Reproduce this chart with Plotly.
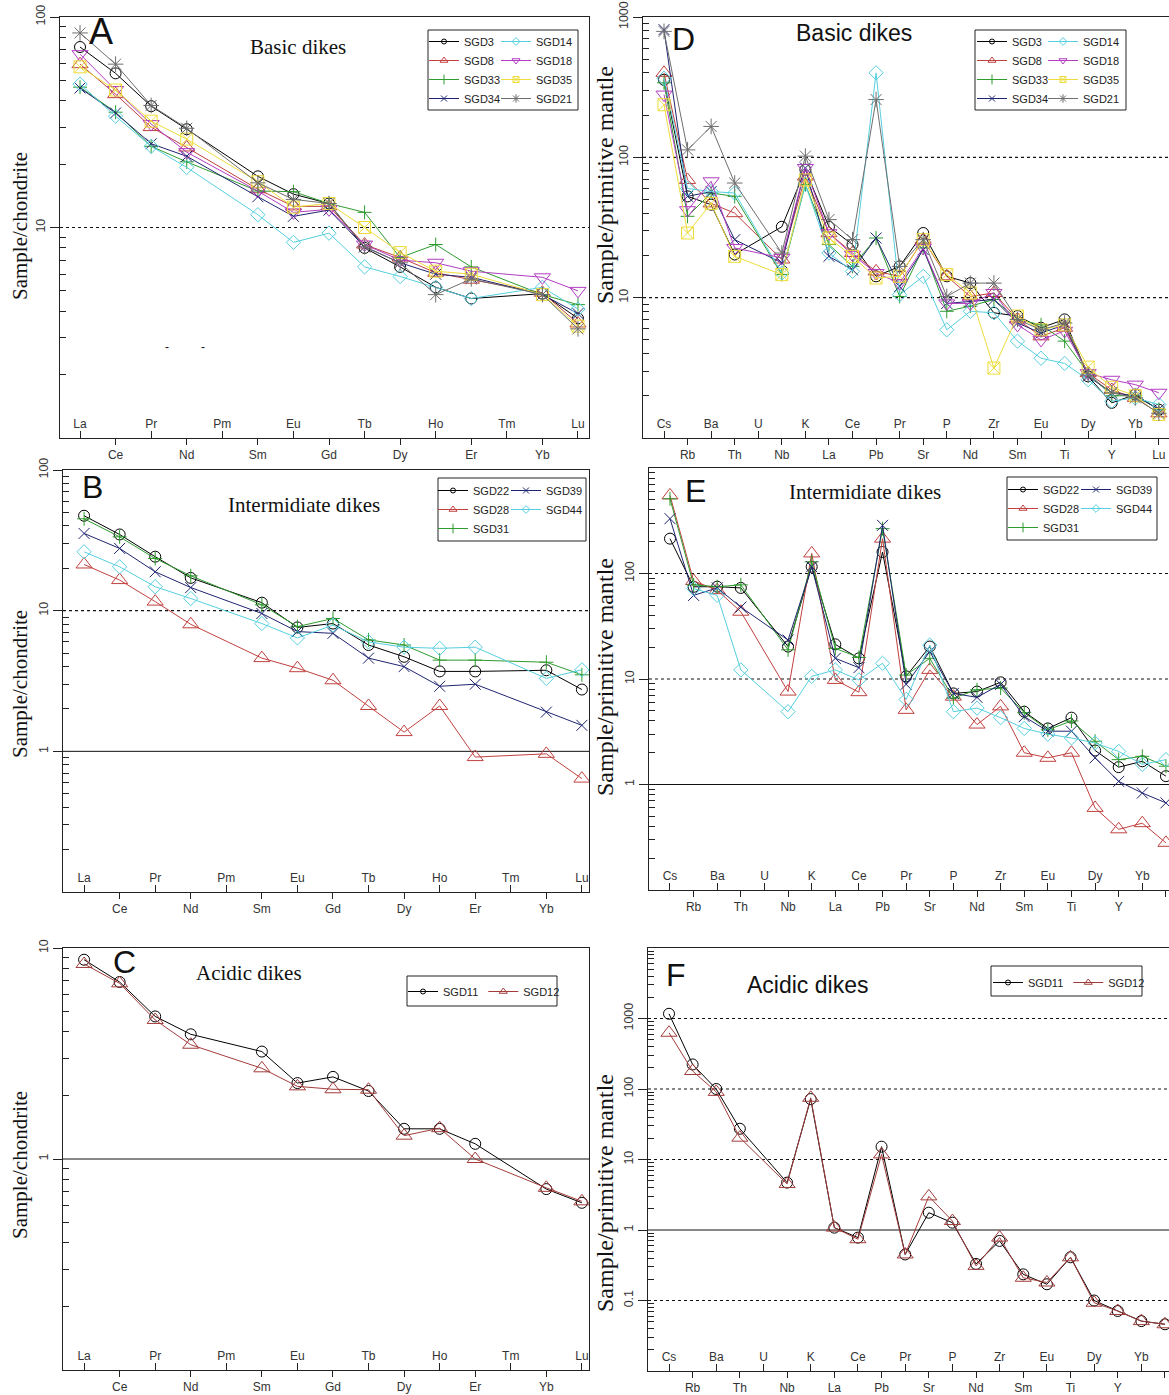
import plotly.graph_objects as go

W, H = 1169, 1395

REE = ["La", "Ce", "Pr", "Nd", "Pm", "Sm", "Eu", "Gd", "Tb", "Dy", "Ho", "Er", "Tm", "Yb", "Lu"]
SPIDER = ["Cs", "Rb", "Ba", "Th", "U", "Nb", "K", "La", "Ce", "Pb", "Pr", "Sr", "P",
          "Nd", "Zr", "Sm", "Eu", "Ti", "Dy", "Y", "Yb", "Lu"]

# ---- Panel A: basic dikes, chondrite-normalised REE (Pm, Tm not analysed) ----
A_SGD3 = [72, 54, 37.7, 29.3, None, 17.5, 14.4, 13.0, 8.0, 6.5, 5.2, 4.6, None, 4.85, 3.7]
A_SGD8 = [59.7, 43, 30, 24, None, 15.2, 12.6, 12.6, 8.3, 7.2, 6.1, 5.65, None, 4.9, 3.5]
A_SGD33 = [46.4, 35.3, 24.3, 20.5, None, 14.9, 14.8, 13.0, 11.8, 7.2, 8.3, 6.5, None, 4.8, 4.3]
A_SGD34 = [46, 35, 25, 21.8, None, 14.0, 11.3, 12.1, 8.1, 6.8, 6.0, 5.8, None, 4.8, 3.9]
A_SGD14 = [48, 33.8, 24.3, 19.3, None, 11.5, 8.5, 9.4, 6.5, 5.85, 5.2, 4.6, None, 5.2, 4.1]
A_SGD18 = [66.6, 45, 31, 22.8, None, 14.9, 11.8, 12.2, 8.3, 7.0, 6.8, 6.2, None, 5.8, 5.0]
A_SGD35 = [58, 45, 32, 26.3, None, 16.5, 12.5, 13.0, 10.0, 7.6, 6.2, 6.0, None, 4.8, 3.4]
A_SGD21 = [84, 59.7, 38, 29.6, None, 16.3, 13.6, 13.0, 8.1, 6.8, 4.8, 5.7, None, 4.8, 3.3]

# ---- Panel D: basic dikes, primitive-mantle-normalised spider (U not analysed) ----
D_SGD3 = [357, 52.7, 46, 20.3, None, 32, 81.7, 32, 23.9, 14.2, 16.7, 28.9, 14.2, 12.7, 7.8, 7.4, 6.1, 7.0, 2.75, 1.78, 2.04, 1.59]
D_SGD8 = [400, 69, 47, 40, None, 18.7, 73, 28.8, 20.8, 15.4, 14.2, 25.9, 14.2, 10.2, 10.8, 7.0, 5.3, 6.1, 2.9, 2.2, 1.93, 1.5]
D_SGD33 = [340, 38, 55.7, 52.7, None, 14.6, 64, 23.9, 16.7, 26.6, 10.2, 22.6, 8.0, 8.7, 9.7, 7.0, 6.4, 4.9, 2.9, 2.0, 2.0, 1.6]
D_SGD34 = [813, 52.7, 57, 25.9, None, 17.7, 84, 19.7, 15.8, 26.6, 12, 22, 9.1, 9.4, 9.7, 6.6, 5.6, 6.4, 2.75, 2.1, 2.0, 1.6]
D_SGD14 = [366, 60, 57, 55.7, None, 15, 64, 20.8, 15.4, 400, 10.5, 14.2, 5.9, 8.0, 7.8, 4.9, 3.7, 3.4, 2.6, 1.83, 1.93, 1.73]
D_SGD18 = [280, 42, 67.5, 22.6, None, 19.2, 84, 28.8, 20.2, 15, 12.7, 22.6, 9.1, 9.1, 10.8, 6.4, 5.0, 5.8, 2.9, 2.6, 2.4, 2.1]
D_SGD35 = [237, 28.9, 47, 19.7, None, 14.6, 69, 26.6, 19.7, 13.8, 14.2, 25.9, 14.6, 10.8, 3.15, 7.4, 5.9, 6.4, 3.2, 2.3, 2.0, 1.47]
D_SGD21 = [790, 113, 166, 65.6, None, 20.8, 102, 36, 25.9, 258, 16.7, 25.9, 10.2, 12.7, 12.7, 7.0, 5.9, 6.6, 2.8, 2.1, 1.93, 1.5]

# ---- Panel B: intermediate dikes, REE ----
B_SGD22 = [47.3, 34.8, 24.2, 17.1, None, 11.4, 7.6, 8.1, 5.7, 4.7, 3.7, 3.7, None, 3.77, 2.75]
B_SGD28 = [21.3, 16.5, 11.6, 8.0, None, 4.6, 3.9, 3.2, 2.1, 1.37, 2.1, 0.91, None, 0.96, 0.64]
B_SGD31 = [45, 33.5, 23.5, 17.7, None, 11.0, 7.7, 8.8, 6.2, 5.7, 4.45, 4.45, None, 4.3, 3.5]
B_SGD39 = [35.4, 27.7, 18.9, 14.6, None, 9.55, 7.1, 6.9, 4.6, 4.0, 2.9, 3.0, None, 1.9, 1.53]
B_SGD44 = [26.2, 20.5, 14.8, 12.2, None, 8.1, 6.4, 7.9, 6.0, 5.5, 5.4, 5.5, None, 3.3, 3.8]

# ---- Panel E: intermediate dikes, spider ----
E_SGD22 = [214, 74.8, 75, 73, None, 20.3, 116, 21.3, 15.7, 160, 10.6, 20.3, 7.3, 7.6, 9.3, 4.9, 3.4, 4.3, 2.1, 1.46, 1.66, 1.2]
E_SGD28 = [550, 85, 69.5, 43.4, None, 7.6, 155, 9.8, 7.5, 214, 5.1, 12.2, 6.8, 3.7, 5.5, 2.0, 1.79, 2.0, 0.6, 0.376, 0.43, 0.28]
E_SGD31 = [511, 78, 75, 78, None, 18.9, 129, 19.5, 16, 266, 10.9, 15.7, 6.6, 7.9, 8.2, 4.8, 3.3, 4.0, 2.57, 1.72, 1.85, 1.49]
E_SGD39 = [331, 62, 73, 48, None, 23.4, 116, 15.7, 12.8, 286, 8.9, 18.2, 7.3, 6.7, 8.9, 4.4, 3.2, 3.2, 1.79, 1.07, 0.83, 0.67]
E_SGD44 = [None, 72, 62, 12.2, None, 4.9, 10.6, 12.2, 9.8, 14.1, 6.4, 21, 4.9, 5.3, 4.3, 3.4, 3.0, 2.76, 2.47, 2.06, 1.55, 1.72]

# ---- Panel C: acidic dikes, REE ----
C_SGD11 = [8.8, 6.9, 4.74, 3.9, None, 3.23, 2.29, 2.45, 2.1, 1.39, 1.39, 1.18, None, 0.72, 0.62]
C_SGD12 = [8.4, 6.8, 4.56, 3.48, None, 2.69, 2.21, 2.14, 2.13, 1.29, 1.4, 1.0, None, 0.73, 0.63]

# ---- Panel F: acidic dikes, spider ----
F_SGD11 = [1167, 223, 100, 27.3, None, 4.7, 72, 1.08, 0.78, 15.2, 0.45, 1.76, 1.27, 0.33, 0.70, 0.235, 0.17, 0.41, 0.10, 0.071, 0.051, 0.046]
F_SGD12 = [628, 180, 91, 20.4, None, 4.5, 75, 1.08, 0.74, 11.8, 0.45, 3.0, 1.34, 0.31, 0.78, 0.21, 0.18, 0.41, 0.093, 0.071, 0.051, 0.046]

# ---- styles ----
BLACK, RED, GREEN, NAVY = "#000000", "#C0413F", "#2E9B2E", "#1F2570"
CYAN, MAGENTA, YELLOW, GRAY, DARKRED = "#56CFDF", "#B23CC2", "#EEDC3C", "#6E6E6E", "#A33B3B"

MK = {
    "circle": ("circle-open", 11),
    "tri": ("triangle-up-open", 14),
    "plus": ("cross-thin-open", 10),
    "x": ("x-thin-open", 11),
    "diamond": ("diamond-open", 11),
    "tridown": ("triangle-down-open", 14),
    "sqx": ("square-x-open", 12),
    "ast": ("asterisk-open", 13),
}
LEG_SIZE = {"circle": 5, "tri": 7, "plus": 7, "x": 6, "diamond": 6, "tridown": 7, "sqx": 6, "ast": 7}

SANS = "Arial, Liberation Sans, sans-serif"
SERIF = "Times New Roman, Liberation Serif, serif"


def xp(p):
    return p / W


def yp(p):
    return 1 - p / H


panels = [
    dict(n=1, ov=7, x0=60, x1=589, y0=17, y1=438, cats=REE, xr=[-0.563, 14.31], yr=[0, 2],
         yt=[1, 10, 100], lines=[(10, "dot")],
         series=[("SGD3", A_SGD3, BLACK, "circle", "legend"),
                 ("SGD8", A_SGD8, RED, "tri", "legend"),
                 ("SGD33", A_SGD33, GREEN, "plus", "legend"),
                 ("SGD34", A_SGD34, NAVY, "x", "legend"),
                 ("SGD14", A_SGD14, CYAN, "diamond", "legend2"),
                 ("SGD18", A_SGD18, MAGENTA, "tridown", "legend2"),
                 ("SGD35", A_SGD35, YELLOW, "sqx", "legend2"),
                 ("SGD21", A_SGD21, GRAY, "ast", "legend2")],
         mirror_y=True),
    dict(n=2, ov=8, x0=643, x1=1169, y0=17, y1=438, cats=SPIDER, xr=[-0.891, 21.43], yr=[0, 3],
         yt=[1, 10, 100, 1000], lines=[(10, "dot"), (100, "dot")],
         series=[("SGD3", D_SGD3, BLACK, "circle", "legend3"),
                 ("SGD8", D_SGD8, RED, "tri", "legend3"),
                 ("SGD33", D_SGD33, GREEN, "plus", "legend3"),
                 ("SGD34", D_SGD34, NAVY, "x", "legend3"),
                 ("SGD14", D_SGD14, CYAN, "diamond", "legend4"),
                 ("SGD18", D_SGD18, MAGENTA, "tridown", "legend4"),
                 ("SGD35", D_SGD35, YELLOW, "sqx", "legend4"),
                 ("SGD21", D_SGD21, GRAY, "ast", "legend4")],
         mirror_y=False),
    dict(n=3, ov=9, x0=63, x1=589, y0=470, y1=892, cats=REE, xr=[-0.593, 14.2], yr=[-1, 2],
         yt=[0.1, 1, 10, 100], lines=[(10, "dot"), (1, "solid")],
         series=[("SGD22", B_SGD22, BLACK, "circle", "legend5"),
                 ("SGD28", B_SGD28, RED, "tri", "legend5"),
                 ("SGD31", B_SGD31, GREEN, "plus", "legend5"),
                 ("SGD39", B_SGD39, NAVY, "x", "legend6"),
                 ("SGD44", B_SGD44, CYAN, "diamond", "legend6")],
         mirror_y=True),
    dict(n=4, ov=10, x0=649, x1=1169, y0=468, y1=890, cats=SPIDER, xr=[-0.889, 21.13], yr=[-1, 3],
         yt=[0.1, 1, 10, 100], lines=[(100, "dot"), (10, "dot"), (1, "solid")],
         series=[("SGD22", E_SGD22, BLACK, "circle", "legend7"),
                 ("SGD28", E_SGD28, RED, "tri", "legend7"),
                 ("SGD31", E_SGD31, GREEN, "plus", "legend7"),
                 ("SGD39", E_SGD39, NAVY, "x", "legend8"),
                 ("SGD44", E_SGD44, CYAN, "diamond", "legend8")],
         mirror_y=False),
    dict(n=5, ov=11, x0=63, x1=589, y0=948, y1=1370, cats=REE, xr=[-0.593, 14.2], yr=[-1, 1],
         yt=[0.1, 1, 10], lines=[(1, "solid")],
         series=[("SGD11", C_SGD11, BLACK, "circle", "legend9"),
                 ("SGD12", C_SGD12, DARKRED, "tri", "legend9")],
         mirror_y=True),
    dict(n=6, ov=12, x0=648, x1=1169, y0=948, y1=1371, cats=SPIDER, xr=[-0.889, 21.17], yr=[-2, 4],
         yt=[0.01, 0.1, 1, 10, 100, 1000],
         lines=[(1000, "dot"), (100, "dot"), (10, "dot"), (1, "solid"), (0.1, "dot")],
         series=[("SGD11", F_SGD11, BLACK, "circle", "legend10"),
                 ("SGD12", F_SGD12, DARKRED, "tri", "legend10")],
         mirror_y=False),
]

fig = go.Figure()
layout = dict(width=W, height=H, margin=dict(l=0, r=0, t=0, b=0, pad=0, autoexpand=False),
              paper_bgcolor="white", plot_bgcolor="white", hovermode=False,
              showlegend=True)
shapes = []
annotations = []


def fmt(v):
    return ("%g" % v)


for p in panels:
    n, ov = p["n"], p["ov"]
    xk = "xaxis" if n == 1 else "xaxis%d" % n
    yk = "yaxis" if n == 1 else "yaxis%d" % n
    xr_ = "x" if n == 1 else "x%d" % n
    yr_ = "y" if n == 1 else "y%d" % n
    ovk = "xaxis%d" % ov
    ovr = "x%d" % ov
    cats = p["cats"]
    idx = list(range(len(cats)))
    even = [i for i in idx if i % 2 == 0]
    odd = [i for i in idx if i % 2 == 1]
    xdom = [xp(p["x0"]), xp(p["x1"])]
    ydom = [yp(p["y1"]), yp(p["y0"])]

    layout[xk] = dict(domain=xdom, anchor=yr_, range=p["xr"], showgrid=False, zeroline=False,
                      showline=True, linecolor="#222", linewidth=1, mirror=True,
                      tickmode="array", tickvals=even, ticktext=[cats[i] for i in even],
                      ticks="inside", ticklen=7, tickcolor="#222",
                      ticklabelposition="inside",
                      tickfont=dict(family=SANS, size=12, color="#333"))
    layout[ovk] = dict(overlaying=xr_, anchor=yr_, side="bottom", range=p["xr"], showgrid=False,
                       zeroline=False, showline=False,
                       tickmode="array", tickvals=odd, ticktext=[cats[i] for i in odd],
                       ticks="outside", ticklen=6, tickcolor="#222",
                       tickfont=dict(family=SANS, size=12, color="#333"))
    yt = p["yt"]
    minor_vals = []
    for d in range(int(p["yr"][0]), int(p["yr"][1])):
        for k in range(2, 10):
            minor_vals.append(k * 10 ** d)
    layout[yk] = dict(domain=ydom, anchor=xr_, type="log", range=p["yr"], showgrid=False,
                      zeroline=False, showline=True, linecolor="#222", linewidth=1,
                      mirror=p["mirror_y"],
                      tickmode="array", tickvals=yt, ticktext=[fmt(v) for v in yt],
                      ticks="outside", ticklen=9, tickcolor="#222", tickangle=-90,
                      tickfont=dict(family=SANS, size=12.5, color="#333"),
                      minor=dict(tickmode="array", tickvals=minor_vals, ticks="inside",
                                 ticklen=6, tickcolor="#222", showgrid=False))

    for v, dash in p["lines"]:
        shapes.append(dict(type="line", xref="%s domain" % xr_, x0=0, x1=1, yref=yr_, y0=v, y1=v,
                           line=dict(color="#111", width=1.2 if dash == "dot" else 1,
                                     dash="dot" if dash == "dot" else "solid"), layer="below"))

    # empty trace so the overlaying (odd-label) x axis is drawn
    fig.add_trace(go.Scatter(x=[None], y=[None], mode="markers", xaxis=ovr, yaxis=yr_,
                             showlegend=False, hoverinfo="skip"))

    for name, vals, col, mk, leg in p["series"]:
        sym, size = MK[mk]
        fig.add_trace(go.Scatter(x=idx, y=vals, mode="lines+markers", connectgaps=True,
                                 xaxis=xr_, yaxis=yr_, showlegend=False, name=name,
                                 line=dict(color=col, width=1),
                                 marker=dict(symbol=sym, size=size, color=col,
                                             line=dict(color=col, width=1))))
        fig.add_trace(go.Scatter(x=[None], y=[None], mode="lines+markers",
                                 xaxis=xr_, yaxis=yr_, showlegend=True, name=name, legend=leg,
                                 line=dict(color=col, width=1),
                                 marker=dict(symbol=sym, size=LEG_SIZE[mk], color=col,
                                             line=dict(color=col, width=1))))

# ---- legends ----
leg_font = dict(family=SANS, size=11, color="#222")


def vleg(xpx, ypx, orient="v"):
    return dict(x=xp(xpx), y=yp(ypx), xanchor="left", yanchor="top", orientation=orient,
                bgcolor="rgba(0,0,0,0)", borderwidth=0, font=leg_font, tracegroupgap=0,
                itemclick=False, itemdoubleclick=False)


layout["legend"] = vleg(424, 27)
layout["legend2"] = vleg(496, 27)
layout["legend3"] = vleg(972, 27)
layout["legend4"] = vleg(1043, 27)
layout["legend5"] = vleg(433, 476)
layout["legend6"] = vleg(506, 476)
layout["legend7"] = vleg(1003, 475)
layout["legend8"] = vleg(1076, 475)
layout["legend9"] = vleg(403, 977, "h")
layout["legend10"] = vleg(988, 968, "h")

# legend frames
for (l, t, r, b) in [(428, 30, 578, 110), (975, 30, 1126, 110), (438, 478, 586, 541),
                     (1007, 477, 1157, 540), (407, 976, 557, 1006), (991, 966, 1142, 996)]:
    shapes.append(dict(type="rect", xref="paper", yref="paper", x0=xp(l), x1=xp(r),
                       y0=yp(b), y1=yp(t), line=dict(color="#222", width=1),
                       fillcolor="rgba(0,0,0,0)"))


def ann(text, xpx, ypx, size, family, angle=0, color="#111"):
    annotations.append(dict(text=text, x=xp(xpx), y=yp(ypx), xref="paper", yref="paper",
                            showarrow=False, xanchor="center", yanchor="middle",
                            textangle=angle, font=dict(family=family, size=size, color=color)))


# panel letters
ann("A", 101, 31, 36, SANS)
ann("D", 683, 39, 32, SANS)
ann("B", 92, 487, 32, SANS)
ann("E", 695, 491, 32, SANS)
ann("C", 124, 962, 32, SANS)
ann("F", 676, 975, 32, SANS)
# panel titles
ann("Basic dikes", 298, 47, 21, SERIF)
ann("Basic dikes", 854, 33, 23, SANS)
ann("Intermidiate dikes", 304, 505, 21, SERIF)
ann("Intermidiate dikes", 865, 492, 21, SERIF)
ann("Acidic dikes", 249, 973, 21, SERIF)
ann("Acidic dikes", 807, 985, 23, SANS)
# y-axis titles
ann("Sample/chondrite", 20, 226, 21, SERIF, -90)
ann("Sample/chondrite", 20, 684, 21, SERIF, -90)
ann("Sample/chondrite", 20, 1165, 21, SERIF, -90)
ann("Sample/primitive mantle", 605, 185, 24, SERIF, -90)
ann("Sample/primitive mantle", 605, 677, 24, SERIF, -90)
ann("Sample/primitive mantle", 605, 1193, 24, SERIF, -90)
# stray marks in panel A
ann("-", 167, 347, 12, SANS)
ann("-", 203, 347, 12, SANS)

layout["shapes"] = shapes
layout["annotations"] = annotations
fig.update_layout(**layout)
fig.write_html("out.html",
               config={"displayModeBar": False},
               post_script="document.body.style.margin='0';document.body.style.padding='0';"
                           "document.documentElement.style.overflow='hidden';")
